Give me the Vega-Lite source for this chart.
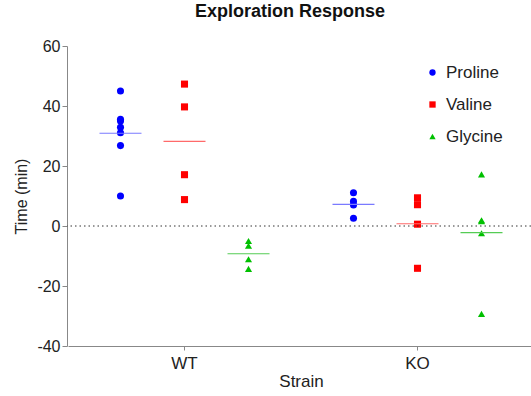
{
  "$schema": "https://vega.github.io/schema/vega-lite/v6.json",
  "width": 464,
  "height": 300,
  "autosize": {"type": "none"},
  "padding": {"left": 67, "top": 46, "right": 0, "bottom": 50},
  "title": {"text": "Exploration  Response", "fontSize": 18, "font": "Liberation Sans", "fontWeight": "bold", "color": "#111", "anchor": "middle", "dx": -9, "offset": 17},
  "config": {
    "view": {"stroke": "transparent", "strokeWidth": 0, "fill": null},
    "font": "Liberation Sans",
    "axis": {"grid": false, "domainColor": "#888", "tickColor": "#888", "labelColor": "#222", "titleFontWeight": "normal", "titleColor": "#222", "labelFont": "Liberation Sans", "titleFont": "Liberation Sans"}
  },
  "datasets": {
    "pts": [
      {"Strain": "WT", "Amino": "Proline", "Time": 45.0},
      {"Strain": "WT", "Amino": "Proline", "Time": 35.6},
      {"Strain": "WT", "Amino": "Proline", "Time": 35.0},
      {"Strain": "WT", "Amino": "Proline", "Time": 32.9},
      {"Strain": "WT", "Amino": "Proline", "Time": 31.1},
      {"Strain": "WT", "Amino": "Proline", "Time": 26.8},
      {"Strain": "WT", "Amino": "Proline", "Time": 10.0},
      {"Strain": "WT", "Amino": "Valine", "Time": 47.3},
      {"Strain": "WT", "Amino": "Valine", "Time": 39.7},
      {"Strain": "WT", "Amino": "Valine", "Time": 17.1},
      {"Strain": "WT", "Amino": "Valine", "Time": 8.8},
      {"Strain": "WT", "Amino": "Glycine", "Time": -5.0},
      {"Strain": "WT", "Amino": "Glycine", "Time": -6.6},
      {"Strain": "WT", "Amino": "Glycine", "Time": -11.1},
      {"Strain": "WT", "Amino": "Glycine", "Time": -14.3},
      {"Strain": "KO", "Amino": "Proline", "Time": 11.1},
      {"Strain": "KO", "Amino": "Proline", "Time": 8.2},
      {"Strain": "KO", "Amino": "Proline", "Time": 7.0},
      {"Strain": "KO", "Amino": "Proline", "Time": 2.6},
      {"Strain": "KO", "Amino": "Valine", "Time": 9.4},
      {"Strain": "KO", "Amino": "Valine", "Time": 7.1},
      {"Strain": "KO", "Amino": "Valine", "Time": 0.6},
      {"Strain": "KO", "Amino": "Valine", "Time": -14.1},
      {"Strain": "KO", "Amino": "Glycine", "Time": 17.2},
      {"Strain": "KO", "Amino": "Glycine", "Time": 1.6},
      {"Strain": "KO", "Amino": "Glycine", "Time": 1.9},
      {"Strain": "KO", "Amino": "Glycine", "Time": -2.4},
      {"Strain": "KO", "Amino": "Glycine", "Time": -29.3}
    ],
    "zero": [{"Time": 0}]
  },
  "data": {"name": "pts"},
  "layer": [
    {
      "mark": {"type": "point", "filled": true, "opacity": 1, "size": 50},
      "encoding": {
        "x": {"field": "Strain", "type": "nominal", "sort": ["WT", "KO"], "scale": {"paddingInner": 0, "paddingOuter": 0, "range": [1, 467]},
              "axis": {"labelAngle": 0, "tickSize": 4, "labelPadding": 5, "titlePadding": 2, "title": "Strain", "labelFontSize": 17, "titleFontSize": 17}},
        "xOffset": {"field": "Amino", "type": "nominal", "sort": ["Proline", "Valine", "Glycine"], "scale": {"type": "band", "domain": ["Proline", "Valine", "Glycine"], "paddingInner": 0, "paddingOuter": 0.32}},
        "y": {"field": "Time", "type": "quantitative", "scale": {"domain": [-40, 60], "nice": false},
              "axis": {"values": [-40, -20, 0, 20, 40, 60], "labelExpr": "'' + datum.value", "tickSize": 5, "labelPadding": 2, "titlePadding": 7, "title": "Time (min)", "labelFontSize": 16, "titleFontSize": 16}},
        "color": {"field": "Amino", "type": "nominal", "sort": ["Proline", "Valine", "Glycine"],
                  "scale": {"domain": ["Proline", "Valine", "Glycine"], "range": ["#0000ff", "#ff0000", "#00c000"]},
                  "legend": {"title": null, "orient": "none", "legendX": 357, "legendY": 18, "labelFontSize": 17, "labelColor": "#222", "symbolSize": 40, "symbolStrokeWidth": 0, "labelOffset": 5, "rowPadding": 14, "labelFont": "Liberation Sans"}},
        "shape": {"field": "Amino", "type": "nominal", "sort": ["Proline", "Valine", "Glycine"],
                  "scale": {"domain": ["Proline", "Valine", "Glycine"], "range": ["circle", "square", "triangle-up"]},
                  "legend": {"title": null, "orient": "none", "legendX": 357, "legendY": 18, "labelFontSize": 17, "labelColor": "#222", "symbolSize": 40, "symbolStrokeWidth": 0, "labelOffset": 5, "rowPadding": 14, "labelFont": "Liberation Sans"}}
      }
    },
    {
      "transform": [{"filter": "datum.Amino == 'Proline'"}],
      "mark": {"type": "tick", "size": 42, "thickness": 1.2, "color": "#7a7aff"},
      "encoding": {
        "x": {"field": "Strain", "type": "nominal", "sort": ["WT", "KO"]},
        "xOffset": {"field": "Amino", "type": "nominal"},
        "y": {"aggregate": "mean", "field": "Time", "type": "quantitative"}
      }
    },
    {
      "transform": [{"filter": "datum.Amino == 'Valine'"}],
      "mark": {"type": "tick", "size": 42, "thickness": 1.2, "color": "#ff6a6a"},
      "encoding": {
        "x": {"field": "Strain", "type": "nominal", "sort": ["WT", "KO"]},
        "xOffset": {"field": "Amino", "type": "nominal"},
        "y": {"aggregate": "mean", "field": "Time", "type": "quantitative"}
      }
    },
    {
      "transform": [{"filter": "datum.Amino == 'Glycine'"}],
      "mark": {"type": "tick", "size": 42, "thickness": 1.2, "color": "#55cc55"},
      "encoding": {
        "x": {"field": "Strain", "type": "nominal", "sort": ["WT", "KO"]},
        "xOffset": {"field": "Amino", "type": "nominal"},
        "y": {"aggregate": "mean", "field": "Time", "type": "quantitative"}
      }
    },
    {
      "data": {"name": "zero"},
      "mark": {"type": "rule", "color": "#333", "strokeDash": [1.5, 3], "strokeWidth": 1},
      "encoding": {"y": {"field": "Time", "type": "quantitative"}}
    }
  ]
}
